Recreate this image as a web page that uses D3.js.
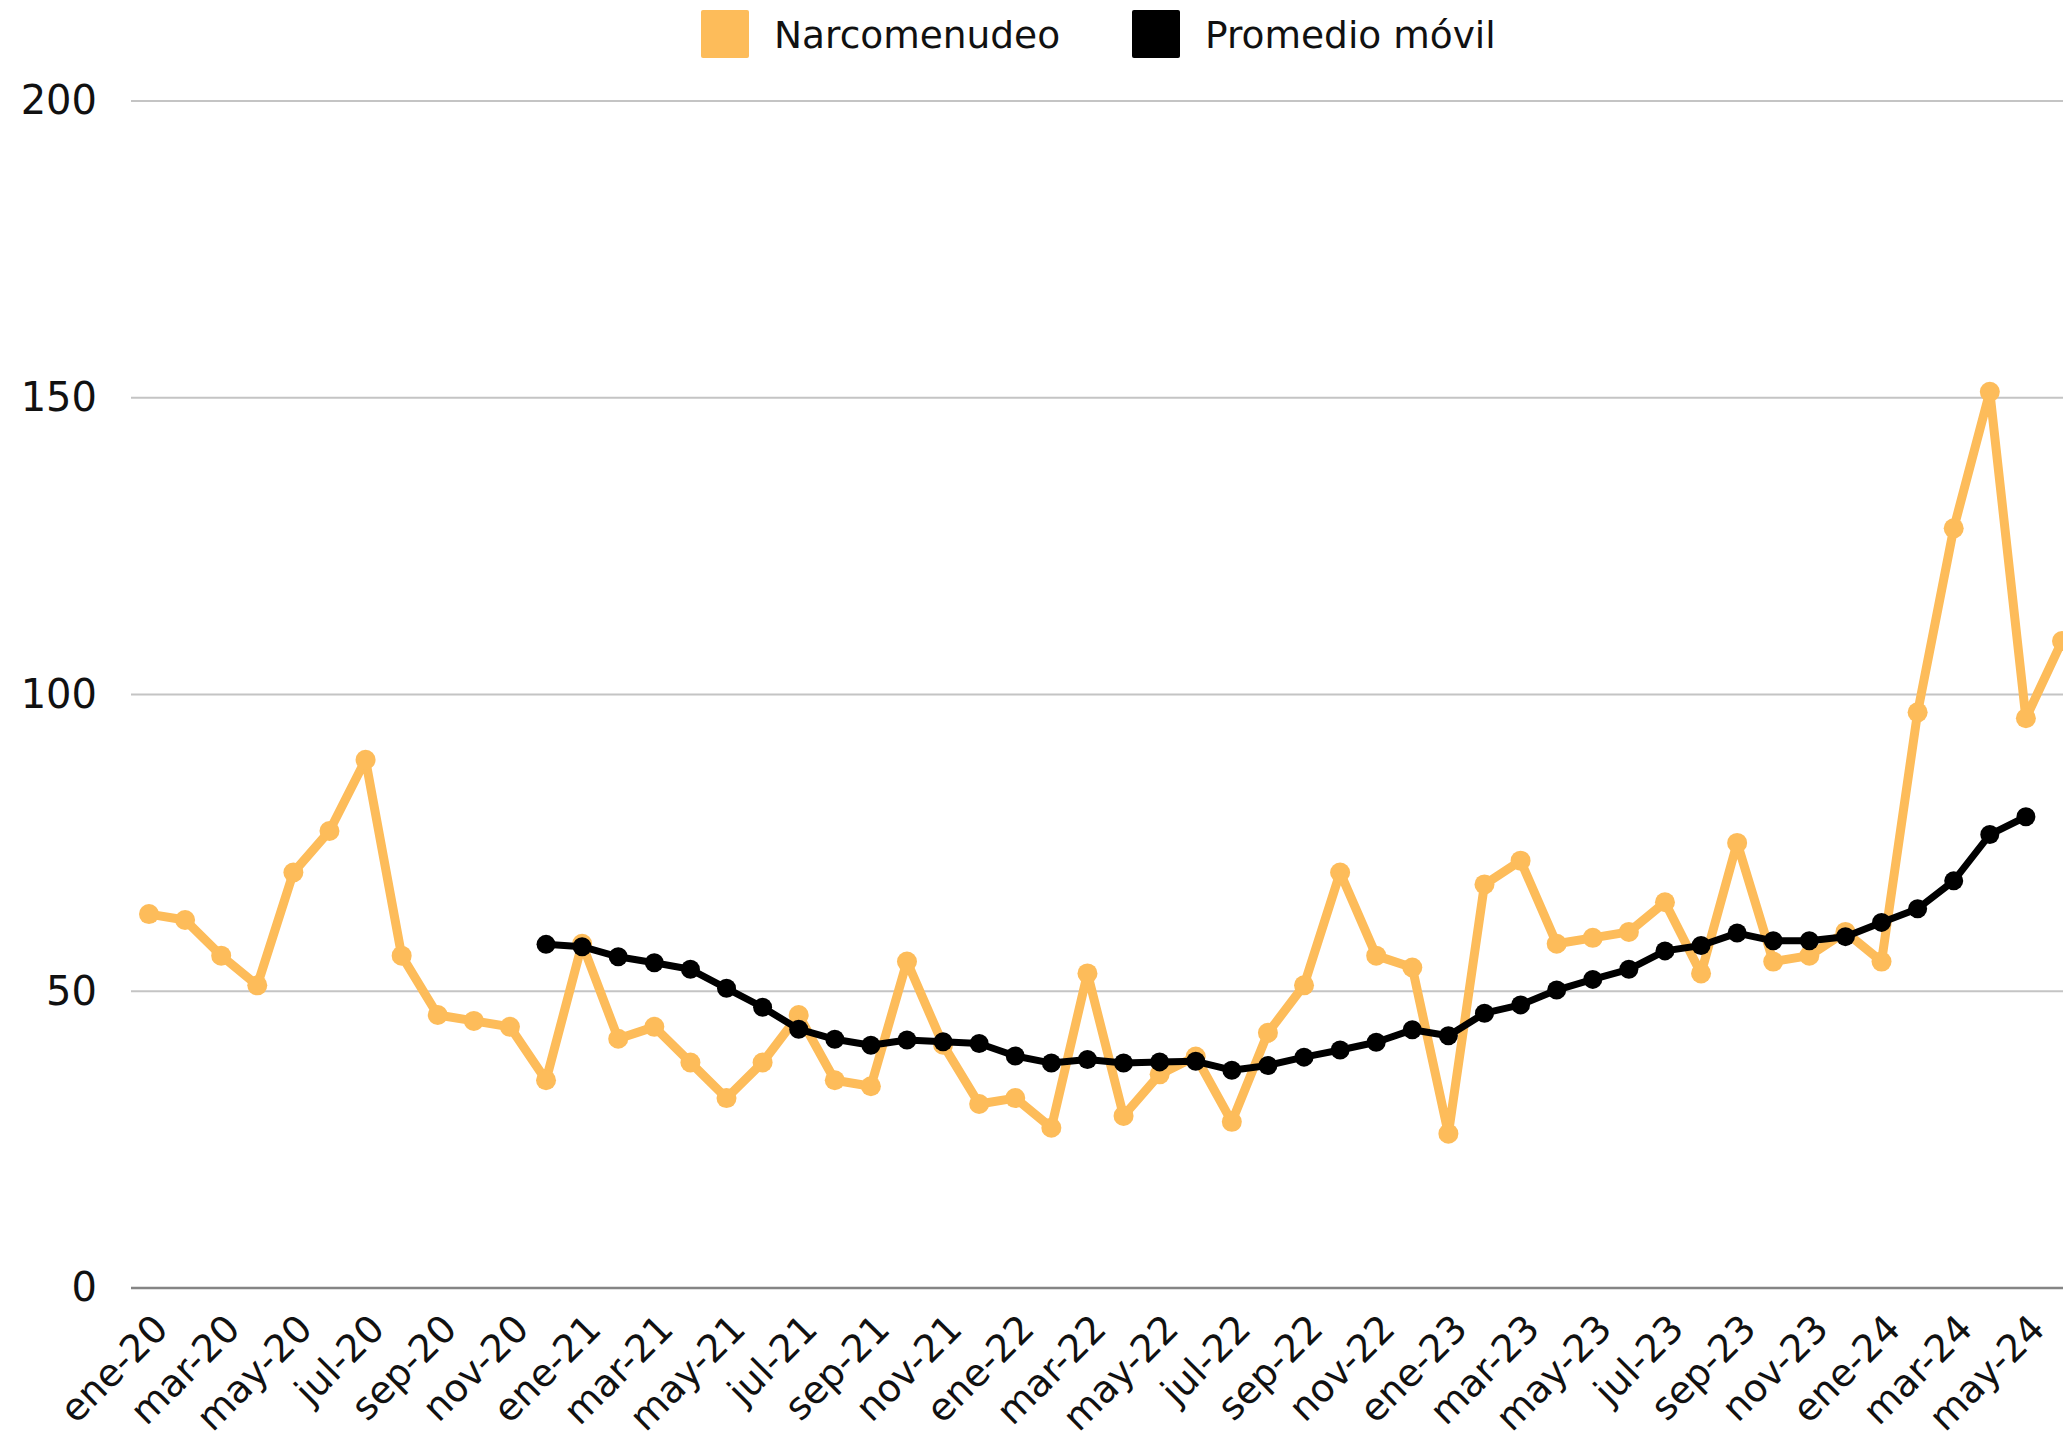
<!DOCTYPE html>
<html>
<head>
<meta charset="utf-8">
<script src="https://cdn.jsdelivr.net/npm/d3@7"></script>
<style>
  html, body { margin: 0; padding: 0; background: #ffffff; }
  svg { display: block; font-family: "DejaVu Sans", sans-serif; }
</style>
</head>
<body>
<svg id="chart" width="2063" height="1439"></svg>
<script>
// Month abbreviations and years of the monthly series (ene-20 .. jun-24)
const monthNames = ["ene","feb","mar","abr","may","jun","jul","ago","sep","oct","nov","dic"];
const years = ["20","21","22","23","24"];
const months = [];
years.forEach(y => monthNames.forEach(m => months.push(m + "-" + y)));
months.length = 54;

// Monthly count of narcomenudeo cases
const narcomenudeo = [
  63, 62, 56, 51, 70, 77, 89, 56, 46, 45, 44, 35,
  58, 42, 44, 38, 32, 38, 46, 35, 34, 55, 41, 31,
  32, 27, 53, 29, 36, 39, 28, 43, 51, 70, 56, 54,
  26, 68, 72, 58, 59, 60, 65, 53, 75, 55, 56, 60,
  55, 97, 128, 151, 96, 109
];

// 12-month moving average (starts dic-20, ends may-24)
const promedioMovil = [
  null, null, null, null, null, null, null, null, null, null, null, 57.9,
  57.5, 55.8, 54.8, 53.7, 50.5, 47.3, 43.6, 41.9, 40.9, 41.8, 41.5, 41.2,
  39.1, 37.9, 38.5, 37.9, 38.1, 38.2, 36.7, 37.5, 38.9, 40.1, 41.4, 43.5,
  42.5, 46.3, 47.7, 50.2, 52.0, 53.7, 56.8, 57.7, 59.8, 58.5, 58.5, 59.2,
  61.6, 63.9, 68.6, 76.4, 79.4, null
];

const yTicks = [0, 50, 100, 150, 200];
const seriesNames = ["Narcomenudeo", "Promedio móvil"];

const ORANGE = "#FDBC5A";
const BLACK = "#000000";

const svg = d3.select("#chart");
const plotLeft = 131, plotRight = 2063, plotTop = 101, plotBottom = 1288;

const x = d3.scalePoint().domain(months).range([149, 2062]);
const y = d3.scaleLinear().domain([0, 200]).range([plotBottom, plotTop]);

// Horizontal gridlines
svg.append("g")
  .selectAll("line")
  .data(yTicks.filter(t => t !== 0))
  .join("line")
  .attr("x1", plotLeft).attr("x2", plotRight)
  .attr("y1", d => y(d)).attr("y2", d => y(d))
  .attr("stroke", "#c4c4c4").attr("stroke-width", 2);

// Baseline
svg.append("line")
  .attr("x1", plotLeft).attr("x2", plotRight)
  .attr("y1", y(0)).attr("y2", y(0))
  .attr("stroke", "#858585").attr("stroke-width", 2.6);

// Y axis labels
const yAxis = d3.axisLeft(y).tickValues(yTicks).tickSize(0).tickPadding(34);
const gy = svg.append("g").attr("transform", `translate(${plotLeft},0)`).call(yAxis);
gy.select(".domain").remove();
gy.selectAll("text")
  .attr("font-size", 40).attr("fill", "#111")
  .attr("font-family", "DejaVu Sans, sans-serif");

// X axis labels every two months, rotated
const xLabels = months.filter((m, i) => i % 2 === 0);
svg.append("g")
  .selectAll("text")
  .data(xLabels)
  .join("text")
  .attr("transform", d => `translate(${x(d) + 21},${plotBottom + 43}) rotate(-45)`)
  .attr("text-anchor", "end")
  .attr("font-size", 38)
  .attr("fill", "#111")
  .text(d => d);

// Narcomenudeo series
const orangeData = months.map((m, i) => ({ m, v: narcomenudeo[i] }));
const line = d3.line().defined(d => d.v != null).x(d => x(d.m)).y(d => y(d.v));

svg.append("path")
  .datum(orangeData)
  .attr("d", line)
  .attr("fill", "none")
  .attr("stroke", ORANGE)
  .attr("stroke-width", 9)
  .attr("stroke-linejoin", "round");
svg.append("g")
  .selectAll("circle")
  .data(orangeData)
  .join("circle")
  .attr("cx", d => x(d.m)).attr("cy", d => y(d.v))
  .attr("r", 10).attr("fill", ORANGE);

// Moving average series
const blackData = months.map((m, i) => ({ m, v: promedioMovil[i] })).filter(d => d.v != null);
svg.append("path")
  .datum(blackData)
  .attr("d", line)
  .attr("fill", "none")
  .attr("stroke", BLACK)
  .attr("stroke-width", 7)
  .attr("stroke-linejoin", "round");
svg.append("g")
  .selectAll("circle")
  .data(blackData)
  .join("circle")
  .attr("cx", d => x(d.m)).attr("cy", d => y(d.v))
  .attr("r", 9.5).attr("fill", BLACK);

// Legend
const legendItems = [
  { name: seriesNames[0], color: ORANGE, x: 701 },
  { name: seriesNames[1], color: BLACK, x: 1132 }
];
const lg = svg.append("g");
legendItems.forEach(it => {
  lg.append("rect")
    .attr("x", it.x).attr("y", 10).attr("width", 48).attr("height", 48)
    .attr("rx", 2).attr("fill", it.color);
  lg.append("text")
    .attr("x", it.x + 73).attr("y", 48)
    .attr("font-size", 37.5).attr("fill", "#111")
    .text(it.name);
});
</script>
</body>
</html>
